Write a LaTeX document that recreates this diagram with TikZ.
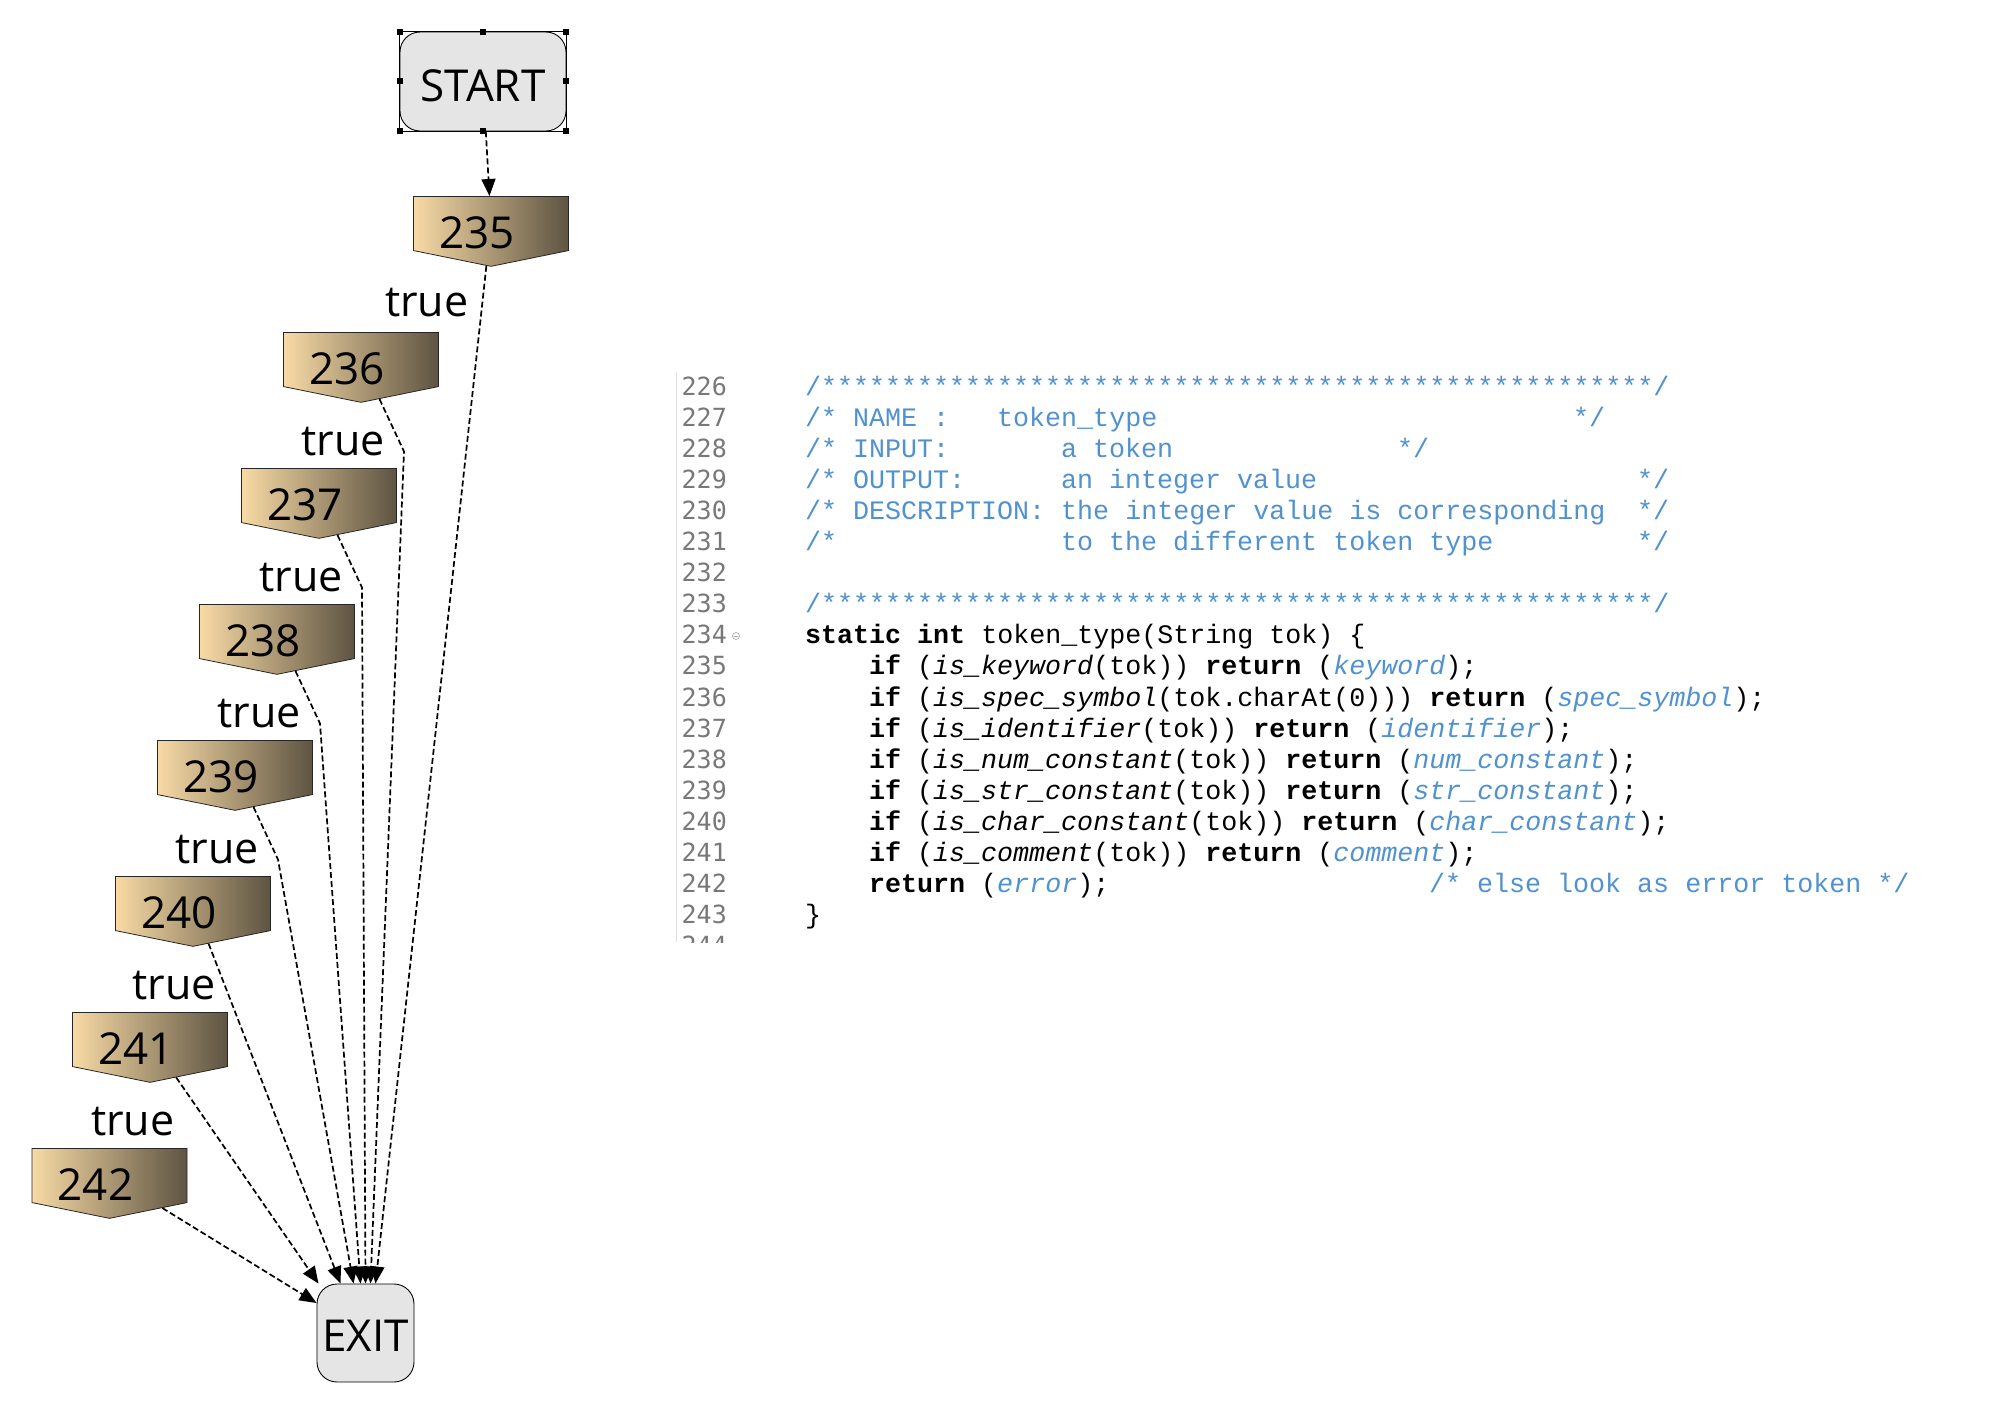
\documentclass[tikz,border=0pt]{standalone}
\usepackage{fontspec}
\usetikzlibrary{shapes.symbols,arrows.meta}
\newfontfamily\diafont{Open Sans}
\newfontfamily\codefont{Liberation Mono}
\newfontfamily\gutterfont{DejaVu Sans Mono}
\definecolor{tanlight}{RGB}{247,218,165}
\definecolor{tandark}{RGB}{94,84,66}
\definecolor{termgray}{RGB}{229,229,229}
\definecolor{cmtblue}{RGB}{80,146,208}
\definecolor{lnumgray}{RGB}{120,120,120}
\frenchspacing
\tikzstyle{term}=[shape=rectangle,rounded corners=20pt,draw=black,fill=termgray,line width=0.9pt,font=\diafont\fontsize{44}{44}\selectfont]
\tikzstyle{block}=[shape=signal,signal to=south,signal pointer angle=157,anchor=north,draw=black!85,line width=0.8pt,left color=tanlight,right color=tandark,minimum width=155pt,minimum height=59pt,inner sep=0pt,font=\diafont\fontsize{44}{44}\selectfont]
\tikzstyle{cond}=[draw=none]
\tikzstyle{truelbl}=[font=\diafont\fontsize{43}{43}\selectfont,inner sep=0pt,xshift=5pt,yshift=-7pt]
\tikzstyle{flow}=[draw=black,line width=1.7pt,dash pattern=on 6pt off 3pt,-{Triangle[length=17pt,width=14pt]}]
\tikzstyle{code}=[anchor=base west,inner sep=0pt,font=\codefont\fontsize{26.67}{31}\selectfont]
\tikzstyle{lnum}=[anchor=base east,inner sep=0pt,text=lnumgray,font=\gutterfont\fontsize{25}{31}\selectfont]
\newcommand{\blocktext}[1]{\raisebox{-9pt}[\height][\depth]{\hspace*{-28pt}#1}}
\newcommand{\lowered}[2]{\raisebox{-#1}[\height][\depth]{#2}}

\begin{document}
\begin{tikzpicture}[x=1pt,y=-1pt]
    \useasboundingbox[fill=white] (0,0) rectangle (2012,1402);

    % terminals
    \node[term,minimum width=166pt,minimum height=99pt] (start) at (483,81.5) {\lowered{4pt}{START}};
    \foreach \a in {north west,north,north east,east,south east,south,south west,west}
        \fill ([shift={(-3,-3)}]start.\a) rectangle ++(6,6);
    \draw[line width=0.6pt] (start.north west) rectangle (start.south east);
    \node[term,minimum width=97pt,minimum height=98pt] (exit) at (365.5,1333) {\lowered{2.5pt}{EXIT}};

    % statements
    \foreach \n/\x/\y in {235/491/196,236/361/332,237/319/468,238/277/604,239/235/740,240/193/876,241/150/1012,242/109.5/1148}
        \node[block] (n\n) at (\x,\y) {\blocktext{\n}};

    % edges
    \draw[flow] (start) -- (n235);
    \foreach \a/\b in {235/236,236/237,237/238,238/239,239/240,240/241,241/242}
        \path[cond] (n\a) -- node[truelbl] (t\a) {true} (n\b);
    \draw[flow] (n235) -- ([xshift=10pt]exit.north);
    \foreach \n/\dx in {236/5,237/0,238/-5,239/-12}
        \draw[flow] (n\n) -- ++(43,92) -- ([xshift=\dx pt]exit.north);
    \draw[flow] (n240) -- ([xshift=-25pt]exit.north);
    \draw[flow] (n241) -- ([xshift=-47pt]exit.north);
    \draw[flow] (n242) -- ([yshift=30pt]exit.west);

    % source listing
    \draw[black!12,line width=1pt] (676,372) -- (676,942);
    \begin{scope}
        \clip (660,360) rectangle (760,942);
        \foreach \i in {226,...,244}
            \node[lnum] (l\i) at (727,{395+31.1*(\i-226)}) {\i};
    \end{scope}
    \draw[lnumgray!70,line width=0.6pt] (736,636) circle (3.5);
    \draw[lnumgray!70,line width=0.6pt] (734,636) -- (738,636);

    \node[code,text=cmtblue] (c226) at (805,395) {/****************************************************/};
    \node[code,text=cmtblue] (c227a) at (805,426.1) {/* NAME :~~~token\_type};
    \node[code,text=cmtblue] (c227b) at (1573,426.1) {*/};
    \node[code,text=cmtblue] (c228a) at (805,457.2) {/* INPUT:};
    \node[code,text=cmtblue] (c228b) at (1061,457.2) {a token};
    \node[code,text=cmtblue] (c228c) at (1397,457.2) {*/};
    \node[code,text=cmtblue] (c229a) at (805,488.3) {/* OUTPUT:};
    \node[code,text=cmtblue] (c229b) at (1061,488.3) {an integer value};
    \node[code,text=cmtblue] (c229c) at (1637,488.3) {*/};
    \node[code,text=cmtblue] (c230a) at (805,519.4) {/* DESCRIPTION: the integer value is corresponding};
    \node[code,text=cmtblue] (c230b) at (1637,519.4) {*/};
    \node[code,text=cmtblue] (c231a) at (805,550.5) {/*};
    \node[code,text=cmtblue] (c231b) at (1061,550.5) {to the different token type};
    \node[code,text=cmtblue] (c231c) at (1637,550.5) {*/};
    \node[code,text=cmtblue] (c233) at (805,612.7) {/****************************************************/};
    \node[code] (c234) at (805,643.8) {\textbf{static} \textbf{int} token\_type(String tok) \{};
    \node[code] (c235) at (869,674.9) {\textbf{if} (\textit{is\_keyword}(tok)) \textbf{return} (\textcolor{cmtblue}{\textit{keyword}});};
    \node[code] (c236) at (869,706) {\textbf{if} (\textit{is\_spec\_symbol}(tok.charAt(0))) \textbf{return} (\textcolor{cmtblue}{\textit{spec\_symbol}});};
    \node[code] (c237) at (869,737.1) {\textbf{if} (\textit{is\_identifier}(tok)) \textbf{return} (\textcolor{cmtblue}{\textit{identifier}});};
    \node[code] (c238) at (869,768.2) {\textbf{if} (\textit{is\_num\_constant}(tok)) \textbf{return} (\textcolor{cmtblue}{\textit{num\_constant}});};
    \node[code] (c239) at (869,799.3) {\textbf{if} (\textit{is\_str\_constant}(tok)) \textbf{return} (\textcolor{cmtblue}{\textit{str\_constant}});};
    \node[code] (c240) at (869,830.4) {\textbf{if} (\textit{is\_char\_constant}(tok)) \textbf{return} (\textcolor{cmtblue}{\textit{char\_constant}});};
    \node[code] (c241) at (869,861.5) {\textbf{if} (\textit{is\_comment}(tok)) \textbf{return} (\textcolor{cmtblue}{\textit{comment}});};
    \node[code] (c242a) at (869,892.6) {\textbf{return} (\textcolor{cmtblue}{\textit{error}});};
    \node[code,text=cmtblue] (c242b) at (1429,892.6) {/* else look as error token */};
    \node[code] (c243) at (805,923.7) {\}};
\end{tikzpicture}
\end{document}
